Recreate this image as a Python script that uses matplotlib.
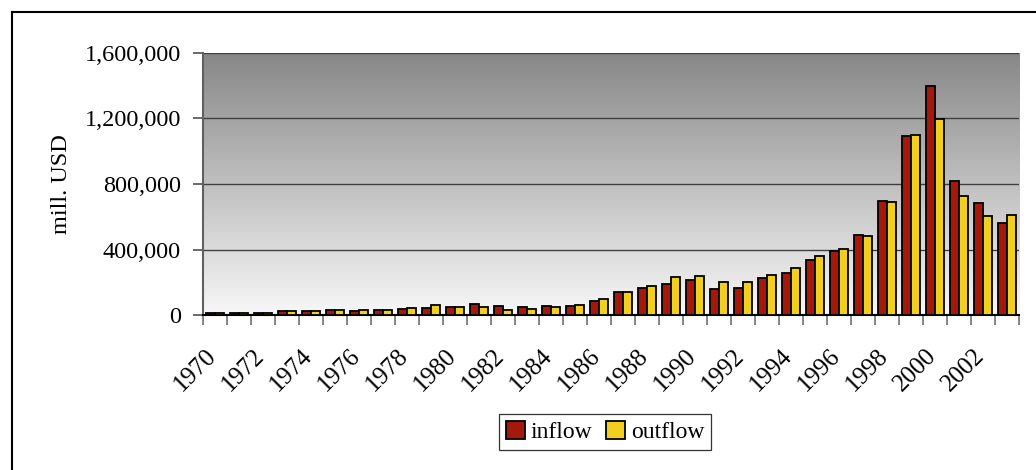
import matplotlib
matplotlib.use("Agg")
import matplotlib.pyplot as plt
import matplotlib.transforms as mtransforms
import numpy as np

# FDI flows, mill. USD
years = list(range(1970, 2004))
inflow = [13000, 13000, 17000, 26000, 27000, 33000, 25000, 31000, 37000, 43000,
          53000, 72000, 59000, 53000, 59000, 59000, 88000, 143000, 166000, 194000,
          213000, 160000, 164000, 225000, 260000, 338000, 390000, 490000, 695000, 1091000,
          1397000, 820000, 685000, 562000]
outflow = [14000, 13000, 17000, 26000, 27000, 33000, 33000, 31000, 43000, 66000,
           53000, 53000, 31000, 41000, 53000, 66000, 100000, 143000, 176000, 231000,
           242000, 201000, 201000, 248000, 289000, 359000, 402000, 484000, 689000, 1097000,
           1198000, 726000, 603000, 613000]
yticks = [0, 400000, 800000, 1200000, 1600000]

plt.rcParams['font.family'] = ['Liberation Serif', 'DejaVu Serif']

fig = plt.figure(figsize=(10.36, 4.70), dpi=100)
ax = fig.add_axes([0.196, 0.329, 0.788, 0.559])

# grey gradient behind the bars
grad = np.linspace(0, 1, 256).reshape(-1, 1)
shade = 0.53 + 0.44 * grad
img = np.dstack([shade, shade, shade])
ax.imshow(img, extent=[0, 1, 0, 1], transform=ax.transAxes, aspect='auto',
          origin='upper', zorder=0)

x = np.arange(len(years))
w = 0.375
ax.bar(x - w / 2, inflow, w, color='#a5190c', edgecolor='black', linewidth=1.3,
       label='inflow', zorder=3)
ax.bar(x + w / 2, outflow, w, color='#f2cf1e', edgecolor='black', linewidth=1.3,
       label='outflow', zorder=3)

ax.set_xlim(-0.5, len(years) - 0.5)
ax.set_ylim(0, 1600000)
ax.set_yticks(yticks)
ax.set_yticklabels(['{:,}'.format(v) for v in yticks], fontsize=17.5)
ax.yaxis.grid(True, color='#404040', linewidth=1.0, zorder=1)
ax.set_axisbelow(True)

# ticks sit between categories
ax.set_xticks(np.arange(len(years) + 1) - 0.5)
ax.set_xticklabels([])
ax.tick_params(axis='x', which='major', length=7, color='#707070', width=1.2)
ax.tick_params(axis='y', length=7, color='#505050', width=1.2, pad=9)

# year labels every other category, rotated
lab_trans = ax.get_xaxis_transform() + mtransforms.ScaledTranslation(
    -10 / 100, -29 / 100, fig.dpi_scale_trans)
for xi, yr in zip(x[::2], years[::2]):
    ax.text(xi, 0, str(yr), transform=lab_trans, rotation=45, ha='right', va='top',
            rotation_mode='anchor', fontsize=18)

for side in ['top', 'right']:
    ax.spines[side].set_visible(False)
ax.spines['left'].set_color('#606060')
ax.spines['left'].set_linewidth(1.5)
ax.spines['bottom'].set_color('black')
ax.spines['bottom'].set_linewidth(1.5)

ax.set_ylabel('mill. USD', fontsize=17.5)
ax.yaxis.set_label_coords(-0.160, 0.5)

leg = fig.legend(loc='center', bbox_to_anchor=(0.584, 0.081), ncol=2, fontsize=17,
                 frameon=True, fancybox=False, handlelength=0.8, handleheight=0.8,
                 handletextpad=0.25, columnspacing=0.6, borderpad=0.3)
leg.get_frame().set_edgecolor('black')
leg.get_frame().set_linewidth(0.9)

# outer chart frame (left and top edges)
fig.add_artist(plt.Line2D([0.0116, 0.0116], [0, 0.975], color='black', linewidth=1.5))
fig.add_artist(plt.Line2D([0.0116, 1.0], [0.975, 0.975], color='black', linewidth=1.5))

plt.savefig('out.png', dpi=100)
